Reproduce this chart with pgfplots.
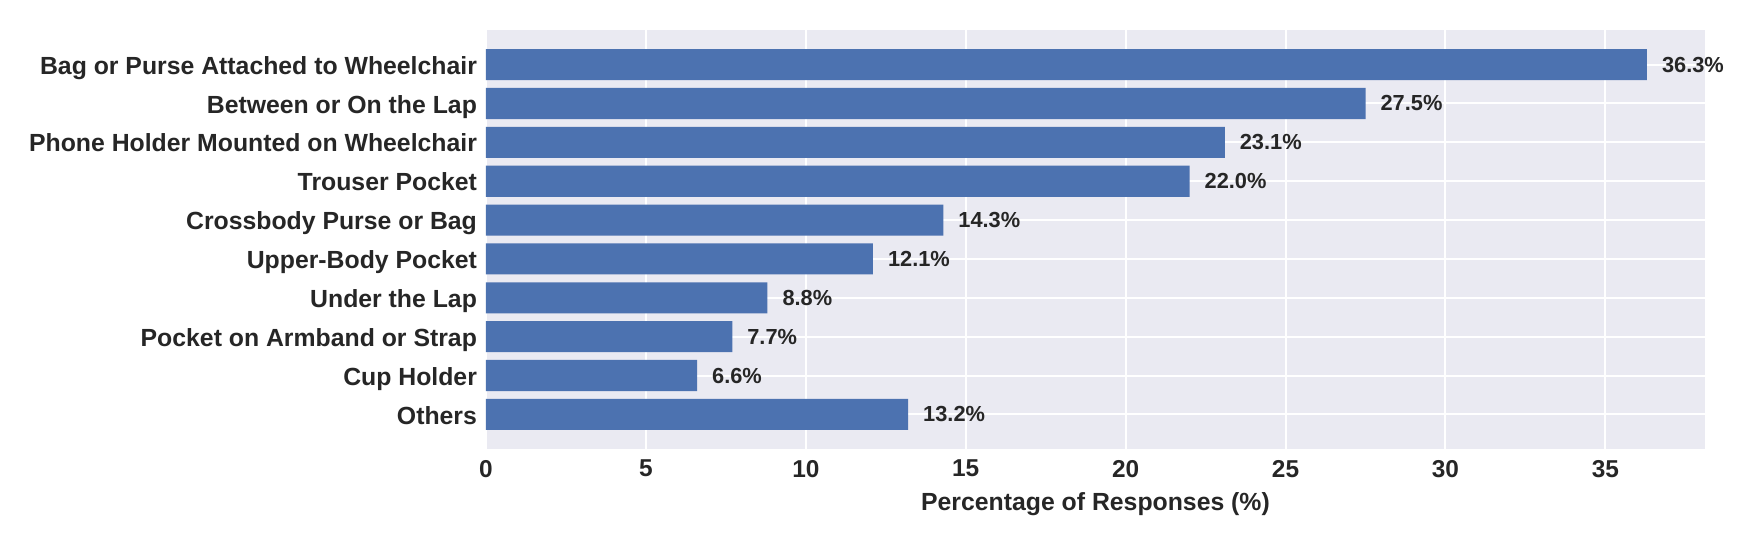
\documentclass[border=0pt]{standalone}
\usepackage{fontspec}
\setmainfont{Liberation Sans}
\usepackage{pgfplots}
\pgfplotsset{compat=1.18}
\definecolor{bgc}{HTML}{EAEAF2}
\definecolor{barc}{HTML}{4C72B0}
\definecolor{txt}{HTML}{262626}
\begin{document}
\begin{tikzpicture}
\path[use as bounding box] (-243pt,-45.5pt) rectangle (629.5pt,224.5pt);
\begin{axis}[
  at={(0,0)}, anchor=south west,
  scale only axis, width=609.5pt, height=209.5pt,
  xmin=0, xmax=38.115, ymin=-0.89, ymax=9.89, y dir=reverse,
  axis background/.style={fill=bgc},
  axis line style={draw=none},
  major tick length=0pt,
  grid=major, major grid style={white, line width=1pt},
  xtick={0,5,...,35},
  ytick={0,...,9},
  yticklabels={Bag or Purse Attached to Wheelchair, Between or On the Lap, Phone Holder Mounted on Wheelchair, Trouser Pocket, Crossbody Purse or Bag, Upper-Body Pocket, Under the Lap, Pocket on Armband or Strap, Cup Holder, Others},
  yticklabel style={font=\fontsize{12.4}{14}\selectfont\bfseries, text=txt, xshift=-1pt, yshift=-1.2pt, text height=0.72em, text depth=0pt},
  xticklabel style={font=\fontsize{12.2}{14}\selectfont\bfseries, text=txt, yshift=-2pt},
  /pgf/number format/assume math mode=true,
  xlabel={Percentage of Responses (\%)},
  xlabel style={font=\fontsize{12.4}{14}\selectfont\bfseries, text=txt, yshift=-0.5pt},
  xbar, bar width=0.8,
  point meta=x,
  nodes near coords={\pgfmathprintnumber[fixed,fixed zerofill,precision=1]{\pgfplotspointmeta}\%},
  nodes near coords style={font=\fontsize{10.9}{13}\selectfont\bfseries, text=txt, anchor=west, xshift=4pt},
]
\addplot[fill=barc, draw=none] coordinates {
(36.3,0) (27.5,1) (23.1,2) (22.0,3) (14.3,4) (12.1,5) (8.8,6) (7.7,7) (6.6,8) (13.2,9)
};
\end{axis}
\end{tikzpicture}
\end{document}
